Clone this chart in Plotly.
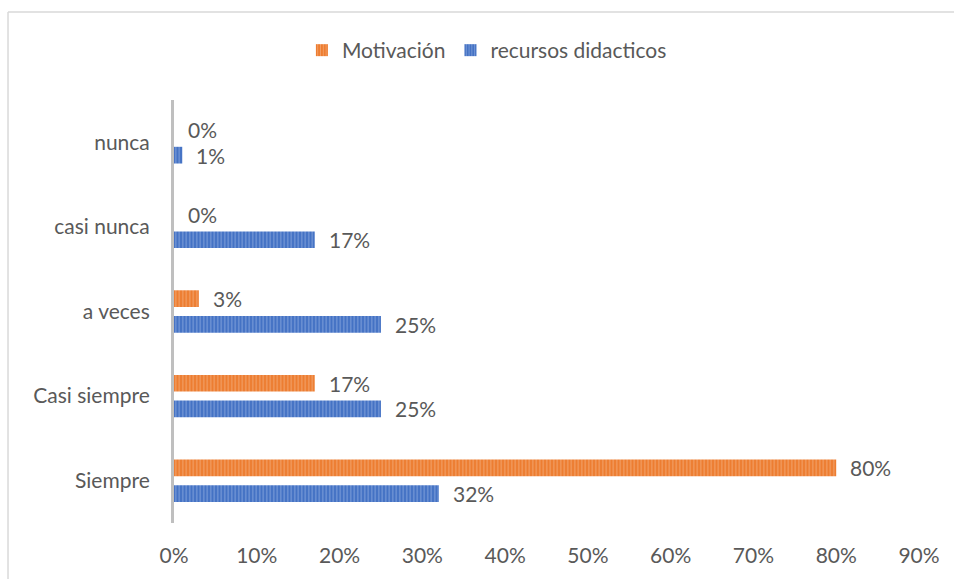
import plotly.graph_objects as go

categories = ["Siempre", "Casi siempre", "a veces", "casi nunca", "nunca"]
motivacion = [0.80, 0.17, 0.03, 0.0, 0.0]
recursos = [0.32, 0.25, 0.25, 0.17, 0.01]
x_ticks = [0, 0.1, 0.2, 0.3, 0.4, 0.5, 0.6, 0.7, 0.8, 0.9]
x_labels = ["0%", "10%", "20%", "30%", "40%", "50%", "60%", "70%", "80%", "90%"]

FONT = "Lato, 'Open Sans', sans-serif"
TXT = "#595959"
FS = 21

fig = go.Figure()
fig.add_trace(go.Bar(
    y=categories, x=recursos, orientation="h", name="recursos didacticos",
    marker=dict(color="#4472C4", line=dict(width=0),
                pattern=dict(shape="|", fgcolor="#A9C0EA", size=3.5, solidity=0.35)),
    hoverinfo="skip",
))
fig.add_trace(go.Bar(
    y=categories, x=motivacion, orientation="h", name="Motivación",
    marker=dict(color="#ED7D31", line=dict(width=0),
                pattern=dict(shape="|", fgcolor="#F7BE96", size=3.5, solidity=0.35)),
    hoverinfo="skip",
))

slot = 0.304
annotations = []
for i, c in enumerate(categories):
    for vals, off in ((motivacion, slot / 2), (recursos, -slot / 2)):
        annotations.append(dict(
            x=vals[i], y=i + off, xref="x", yref="y",
            text=f"{round(vals[i]*100)}%", showarrow=False,
            xanchor="left", yanchor="middle", xshift=12,
            font=dict(family=FONT, size=FS, color=TXT),
        ))

frame = dict(color="#D9D9D9", width=1.5)
fig.update_layout(
    width=954, height=579,
    margin=dict(l=174, r=35, t=100, b=51),
    paper_bgcolor="white", plot_bgcolor="white",
    barmode="group", bargap=0.392, bargroupgap=0.35,
    showlegend=True,
    legend=dict(orientation="h", x=0.42, xanchor="center", y=1.117, yanchor="middle",
                traceorder="reversed", font=dict(family=FONT, size=FS, color=TXT),
                itemwidth=30),
    xaxis=dict(range=[0, 0.9], tickvals=x_ticks, ticktext=x_labels,
               showgrid=False, zeroline=False, showline=False,
               tickfont=dict(family=FONT, size=FS, color=TXT), ticklabelstandoff=18),
    yaxis=dict(type="category", categoryorder="array", categoryarray=categories,
               showline=True, linecolor="#BFBFBF", linewidth=3, showgrid=False,
               tickfont=dict(family=FONT, size=FS, color=TXT), ticklabelstandoff=17,
               range=[-0.5, 4.5]),
    annotations=annotations,
    shapes=[
        dict(type="line", xref="paper", yref="paper", x0=-0.2228, x1=1.1,
             y0=1.208, y1=1.208, line=frame, layer="below"),
        dict(type="line", xref="paper", yref="paper", x0=-0.2228, x1=-0.2228,
             y0=-0.2, y1=1.208, line=frame, layer="below"),
    ],
)
fig.write_html("out.html", config={"displayModeBar": False},
               post_script="document.body.style.margin='0';document.body.style.overflow='hidden';")
